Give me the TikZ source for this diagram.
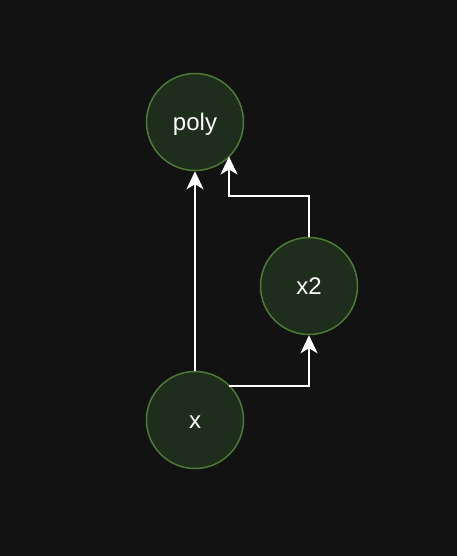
\documentclass[tikz,border=0pt]{standalone}
\usepackage{fontspec}
\setmainfont{Liberation Sans}
\usetikzlibrary{arrows.meta}
\definecolor{bgc}{HTML}{121212}
\definecolor{nodefill}{HTML}{1F2D1C}
\definecolor{nodeline}{HTML}{4C7A34}
\tikzset{
  x=1pt, y=-1pt,
  vnode/.style={circle, draw=nodeline, fill=nodefill, line width=1.5pt, minimum size=97pt, inner sep=0pt, text=white, font=\fontsize{24}{28}\selectfont, text height=17pt, text depth=0pt},
  conn/.style={draw=white, line width=2pt, -{Stealth[length=18pt, width=17pt, inset=5pt]}},
}
\begin{document}
\begin{tikzpicture}
\fill[bgc] (0,0) rectangle (457,556);
\useasboundingbox (0,0) rectangle (457,556);
\node[vnode] (poly) at (195,122) {poly};
\node[vnode] (x2) at (309,286) {x2};
\node[vnode] (x) at (195,420) {x};
\draw[conn] (x.north) -- (poly.south);
\coordinate (b1) at (229,386);
\coordinate (b2) at (309,386);
\draw[conn] (b1) -- (b2) -- (x2.south);
\coordinate (a1) at (309,196);
\coordinate (a2) at (229,196);
\coordinate (a3) at (229,156.5);
\draw[conn] (x2.north) -- (a1) -- (a2) -- (a3);
\end{tikzpicture}
\end{document}
